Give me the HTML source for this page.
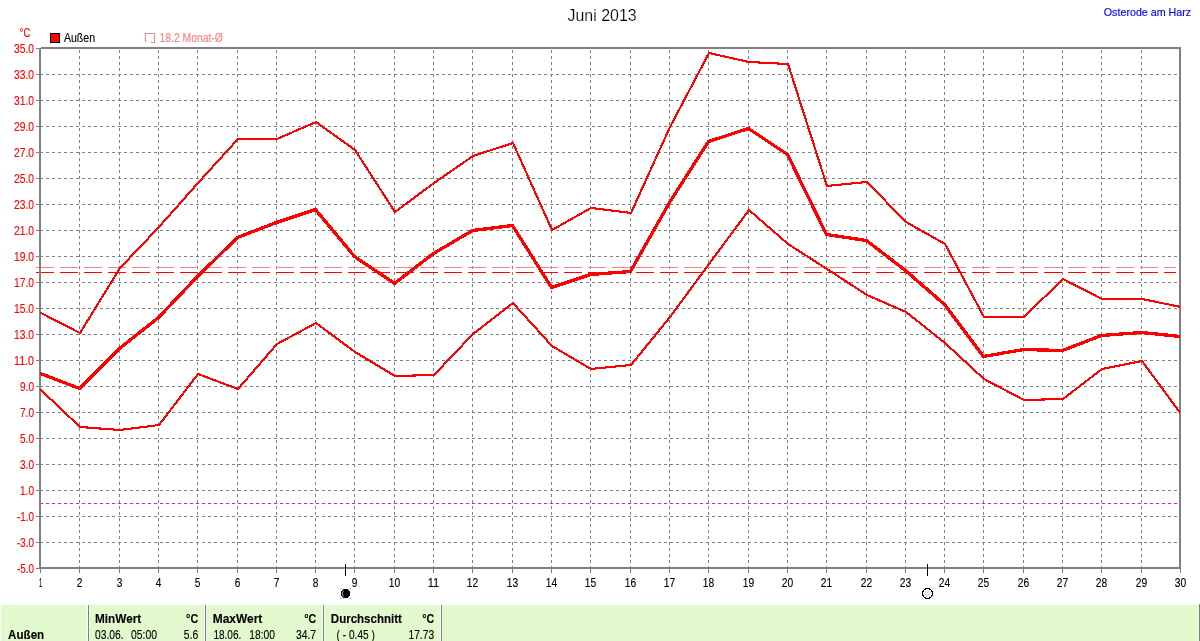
<!DOCTYPE html>
<html lang="de">
<head>
<meta charset="utf-8">
<title>Juni 2013 - Osterode am Harz</title>
<style>
html,body{margin:0;padding:0;background:#fff;}
body{width:1200px;height:641px;overflow:hidden;font-family:"Liberation Sans",sans-serif;}
svg{display:block;}
svg text{white-space:pre;}
</style>
</head>
<body>
<svg width="1200" height="641" viewBox="0 0 1200 641" font-family="'Liberation Sans', sans-serif">
<rect x="0" y="0" width="1200" height="641" fill="#fff"/>
<g shape-rendering="crispEdges">
<rect x="1" y="605" width="1199" height="36" fill="#e2f9ce"/>
<rect x="87" y="605" width="1" height="36" fill="#ffffff"/>
<rect x="88" y="605" width="1" height="36" fill="#808080"/>
<rect x="89" y="605" width="1" height="36" fill="#ecfbe0"/>
<rect x="204" y="605" width="1" height="36" fill="#ffffff"/>
<rect x="205" y="605" width="1" height="36" fill="#808080"/>
<rect x="206" y="605" width="1" height="36" fill="#ecfbe0"/>
<rect x="322" y="605" width="1" height="36" fill="#ffffff"/>
<rect x="323" y="605" width="1" height="36" fill="#808080"/>
<rect x="324" y="605" width="1" height="36" fill="#ecfbe0"/>
<rect x="440" y="605" width="1" height="36" fill="#ffffff"/>
<rect x="441" y="605" width="1" height="36" fill="#808080"/>
<rect x="442" y="605" width="1" height="36" fill="#ecfbe0"/>
<rect x="1198" y="605" width="1" height="36" fill="#e8fad8"/>
<rect x="1199" y="604" width="1" height="37" fill="#808080"/>
</g>
<g shape-rendering="crispEdges" fill="none" stroke="#808080" stroke-width="1">
<path stroke-dasharray="3 3" d="M40 74.5H1180M40 100.5H1180M40 126.5H1180M40 152.5H1180M40 178.5H1180M40 204.5H1180M40 230.5H1180M40 256.5H1180M40 282.5H1180M40 308.5H1180M40 334.5H1180M40 360.5H1180M40 386.5H1180M40 412.5H1180M40 438.5H1180M40 464.5H1180M40 490.5H1180M40 516.5H1180M40 542.5H1180"/>
<path stroke-dasharray="3 3" d="M79.5 569V48M119.5 569V48M158.5 569V48M197.5 569V48M237.5 569V48M276.5 569V48M315.5 569V48M354.5 569V48M394.5 569V48M433.5 569V48M472.5 569V48M512.5 569V48M551.5 569V48M590.5 569V48M630.5 569V48M669.5 569V48M708.5 569V48M748.5 569V48M787.5 569V48M826.5 569V48M866.5 569V48M905.5 569V48M944.5 569V48M983.5 569V48M1023.5 569V48M1062.5 569V48M1101.5 569V48M1141.5 569V48"/>
<path d="M36 48.5H40M36 74.5H40M36 100.5H40M36 126.5H40M36 152.5H40M36 178.5H40M36 204.5H40M36 230.5H40M36 256.5H40M36 282.5H40M36 308.5H40M36 334.5H40M36 360.5H40M36 386.5H40M36 412.5H40M36 438.5H40M36 464.5H40M36 490.5H40M36 516.5H40M36 542.5H40M36 568.5H40M40.5 568V573M79.5 568V573M119.5 568V573M158.5 568V573M197.5 568V573M237.5 568V573M276.5 568V573M315.5 568V573M354.5 568V573M394.5 568V573M433.5 568V573M472.5 568V573M512.5 568V573M551.5 568V573M590.5 568V573M630.5 568V573M669.5 568V573M708.5 568V573M748.5 568V573M787.5 568V573M826.5 568V573M866.5 568V573M905.5 568V573M944.5 568V573M983.5 568V573M1023.5 568V573M1062.5 568V573M1101.5 568V573M1141.5 568V573M1180.5 568V573"/>
</g>
<path shape-rendering="crispEdges" fill="none" stroke="#ff00ff" stroke-width="1" stroke-dasharray="3 3" d="M40 503.5H1180"/>
<path shape-rendering="crispEdges" fill="none" stroke="#ff8080" stroke-width="1" stroke-dasharray="18 6" d="M36 267.5H1176"/>
<path shape-rendering="crispEdges" fill="none" stroke="#ff0000" stroke-width="1" stroke-dasharray="18 6" d="M36 272.5H1176"/>
<g shape-rendering="crispEdges" fill="#808080">
<rect x="39" y="48" width="2" height="521"/>
<rect x="1179" y="47" width="2" height="522"/>
<rect x="41" y="47" width="1140" height="2"/>
<rect x="39" y="567" width="1142" height="2"/>
</g>
<clipPath id="plot"><rect x="40" y="49" width="1140" height="518"/></clipPath>
<polyline clip-path="url(#plot)" shape-rendering="crispEdges" fill="none" stroke="#ff0000" stroke-width="2.1" stroke-linejoin="round" stroke-linecap="round" points="41,313 80,333 120,268 159,227 198,183 238,139 277,139 316,122 355,150 395,212 434,183 473,156 513,143 552,230 591,208 631,213 670,127 709,53 749,62 788,64 827,186 867,182 906,222 945,244 984,317 1024,317 1063,279 1102,299 1142,299 1181,307"/>
<polyline clip-path="url(#plot)" shape-rendering="crispEdges" fill="none" stroke="#ff0000" stroke-width="2.1" stroke-linejoin="round" stroke-linecap="round" points="41,390 80,427 120,430 159,425 198,374 238,389 277,344 316,323 355,352 395,376 434,375 473,334 513,303 552,346 591,369 631,365 670,317 709,264 749,210 788,244 827,269 867,295 906,312 945,343 984,379 1024,400 1063,399 1102,369 1142,361 1181,414"/>
<polyline clip-path="url(#plot)" shape-rendering="crispEdges" fill="none" stroke="#ff0000" stroke-width="3.3" stroke-linejoin="round" stroke-linecap="round" points="40.5,373.5 79.5,388.5 119.5,348.5 158.5,317.5 197.5,276.5 237.5,237.5 276.5,222.5 315.5,209.5 354.5,256.5 394.5,283.5 433.5,253.5 472.5,230.5 512.5,225.5 551.5,287.5 590.5,274.5 630.5,271.5 669.5,202.5 708.5,141.5 748.5,128.5 787.5,154.5 826.5,234.5 866.5,240.5 905.5,270.5 944.5,304.5 983.5,356.5 1023.5,349.5 1062.5,350.5 1101.5,335.5 1141.5,332.5 1180.5,336.5"/>
<g shape-rendering="crispEdges"><rect x="345" y="564" width="1" height="12" fill="#000"/><rect x="927" y="564" width="1" height="12" fill="#000"/></g>
<g shape-rendering="crispEdges" fill="#c8c8c8"><rect x="340" y="588" width="2" height="1"/><rect x="340" y="588" width="1" height="2"/><rect x="349" y="588" width="2" height="1"/><rect x="350" y="588" width="1" height="2"/><rect x="340" y="598" width="2" height="1"/><rect x="340" y="597" width="1" height="2"/><rect x="349" y="598" width="2" height="1"/><rect x="350" y="597" width="1" height="2"/></g>
<circle shape-rendering="crispEdges" cx="345.5" cy="593.5" r="4.7" fill="#000"/>
<path d="M343.3 590.3Q341.3 593.5 343.3 596.7" fill="none" stroke="#fff" stroke-width="0.7"/>
<g shape-rendering="crispEdges" fill="#d0d0d0"><rect x="922" y="588" width="1" height="1"/><rect x="932" y="588" width="1" height="1"/><rect x="922" y="598" width="1" height="1"/><rect x="932" y="598" width="1" height="1"/></g>
<circle shape-rendering="crispEdges" cx="927.5" cy="593.5" r="5" fill="#f4f4f4" stroke="#000" stroke-width="1.25"/>
<path d="M924.5 595.5L929.5 590.5M926 597L931 592M925 592.5L926.5 591M928.5 595.5L930 597" fill="none" stroke="#c8c8c8" stroke-width="0.8"/>
<rect shape-rendering="crispEdges" x="50.5" y="33.5" width="9" height="9" fill="#ff0000" stroke="#000" stroke-width="1"/>
<path shape-rendering="crispEdges" fill="none" stroke="#ff8080" stroke-width="1" d="M145.5 42V33.5H154.5V42.5H151"/>
<text transform="translate(567.50 21.10) scale(0.9971 1.0818)" font-size="16" fill="#000" stroke="#fff" stroke-width="0.2">Juni 2013</text>
<text transform="translate(1103.80 16.00) scale(0.9727 1.0464)" font-size="11" fill="#0000ff" stroke="#0000ff" stroke-width="0.15">Osterode am Harz</text>
<text transform="translate(19.60 37.00) scale(0.7881 1.1030)" font-size="12" fill="#ff0000" stroke="#ff0000" stroke-width="0.12">°C</text>
<text transform="translate(14.00 52.90) scale(0.8565 1.0667)" font-size="12" fill="#ff0000" stroke="#ff0000" stroke-width="0.12">35.0</text>
<text transform="translate(14.00 78.90) scale(0.8565 1.0667)" font-size="12" fill="#ff0000" stroke="#ff0000" stroke-width="0.12">33.0</text>
<text transform="translate(14.00 104.90) scale(0.8565 1.0667)" font-size="12" fill="#ff0000" stroke="#ff0000" stroke-width="0.12">31.0</text>
<text transform="translate(14.00 130.90) scale(0.8565 1.0667)" font-size="12" fill="#ff0000" stroke="#ff0000" stroke-width="0.12">29.0</text>
<text transform="translate(14.00 156.90) scale(0.8565 1.0667)" font-size="12" fill="#ff0000" stroke="#ff0000" stroke-width="0.12">27.0</text>
<text transform="translate(14.00 182.90) scale(0.8565 1.0667)" font-size="12" fill="#ff0000" stroke="#ff0000" stroke-width="0.12">25.0</text>
<text transform="translate(14.00 208.90) scale(0.8565 1.0667)" font-size="12" fill="#ff0000" stroke="#ff0000" stroke-width="0.12">23.0</text>
<text transform="translate(14.00 234.90) scale(0.8565 1.0667)" font-size="12" fill="#ff0000" stroke="#ff0000" stroke-width="0.12">21.0</text>
<text transform="translate(14.00 260.90) scale(0.8565 1.0667)" font-size="12" fill="#ff0000" stroke="#ff0000" stroke-width="0.12">19.0</text>
<text transform="translate(14.00 286.90) scale(0.8565 1.0667)" font-size="12" fill="#ff0000" stroke="#ff0000" stroke-width="0.12">17.0</text>
<text transform="translate(14.00 312.90) scale(0.8565 1.0667)" font-size="12" fill="#ff0000" stroke="#ff0000" stroke-width="0.12">15.0</text>
<text transform="translate(14.00 338.90) scale(0.8565 1.0667)" font-size="12" fill="#ff0000" stroke="#ff0000" stroke-width="0.12">13.0</text>
<text transform="translate(14.00 364.90) scale(0.8909 1.0667)" font-size="12" fill="#ff0000" stroke="#ff0000" stroke-width="0.12">11.0</text>
<text transform="translate(20.00 390.90) scale(0.8383 1.0667)" font-size="12" fill="#ff0000" stroke="#ff0000" stroke-width="0.12">9.0</text>
<text transform="translate(20.00 416.90) scale(0.8383 1.0667)" font-size="12" fill="#ff0000" stroke="#ff0000" stroke-width="0.12">7.0</text>
<text transform="translate(20.00 442.90) scale(0.8383 1.0667)" font-size="12" fill="#ff0000" stroke="#ff0000" stroke-width="0.12">5.0</text>
<text transform="translate(20.00 468.90) scale(0.8383 1.0667)" font-size="12" fill="#ff0000" stroke="#ff0000" stroke-width="0.12">3.0</text>
<text transform="translate(20.00 494.90) scale(0.8383 1.0667)" font-size="12" fill="#ff0000" stroke="#ff0000" stroke-width="0.12">1.0</text>
<text transform="translate(17.00 520.90) scale(0.8213 1.0667)" font-size="12" fill="#ff0000" stroke="#ff0000" stroke-width="0.12">-1.0</text>
<text transform="translate(17.00 546.90) scale(0.8213 1.0667)" font-size="12" fill="#ff0000" stroke="#ff0000" stroke-width="0.12">-3.0</text>
<text transform="translate(17.00 572.90) scale(0.8213 1.0667)" font-size="12" fill="#ff0000" stroke="#ff0000" stroke-width="0.12">-5.0</text>
<text transform="translate(38.90 587.00) scale(0.4812 1.0909)" font-size="12" fill="#000" stroke="#000" stroke-width="0.12">1</text>
<text transform="translate(76.70 587.00) scale(0.8421 1.0909)" font-size="12" fill="#000" stroke="#000" stroke-width="0.12">2</text>
<text transform="translate(116.70 587.00) scale(0.8421 1.0909)" font-size="12" fill="#000" stroke="#000" stroke-width="0.12">3</text>
<text transform="translate(155.70 587.00) scale(0.8421 1.0909)" font-size="12" fill="#000" stroke="#000" stroke-width="0.12">4</text>
<text transform="translate(194.70 587.00) scale(0.8421 1.0909)" font-size="12" fill="#000" stroke="#000" stroke-width="0.12">5</text>
<text transform="translate(234.70 587.00) scale(0.8421 1.0909)" font-size="12" fill="#000" stroke="#000" stroke-width="0.12">6</text>
<text transform="translate(273.70 587.00) scale(0.8421 1.0909)" font-size="12" fill="#000" stroke="#000" stroke-width="0.12">7</text>
<text transform="translate(312.70 587.00) scale(0.8421 1.0909)" font-size="12" fill="#000" stroke="#000" stroke-width="0.12">8</text>
<text transform="translate(351.70 587.00) scale(0.8421 1.0909)" font-size="12" fill="#000" stroke="#000" stroke-width="0.12">9</text>
<text transform="translate(388.80 587.00) scale(0.8539 1.0909)" font-size="12" fill="#000" stroke="#000" stroke-width="0.12">10</text>
<text transform="translate(427.80 587.00) scale(0.9157 1.0909)" font-size="12" fill="#000" stroke="#000" stroke-width="0.12">11</text>
<text transform="translate(466.80 587.00) scale(0.8539 1.0909)" font-size="12" fill="#000" stroke="#000" stroke-width="0.12">12</text>
<text transform="translate(506.80 587.00) scale(0.8539 1.0909)" font-size="12" fill="#000" stroke="#000" stroke-width="0.12">13</text>
<text transform="translate(545.80 587.00) scale(0.8539 1.0909)" font-size="12" fill="#000" stroke="#000" stroke-width="0.12">14</text>
<text transform="translate(584.80 587.00) scale(0.8539 1.0909)" font-size="12" fill="#000" stroke="#000" stroke-width="0.12">15</text>
<text transform="translate(624.80 587.00) scale(0.8539 1.0909)" font-size="12" fill="#000" stroke="#000" stroke-width="0.12">16</text>
<text transform="translate(663.80 587.00) scale(0.8539 1.0909)" font-size="12" fill="#000" stroke="#000" stroke-width="0.12">17</text>
<text transform="translate(702.80 587.00) scale(0.8539 1.0909)" font-size="12" fill="#000" stroke="#000" stroke-width="0.12">18</text>
<text transform="translate(742.80 587.00) scale(0.8539 1.0909)" font-size="12" fill="#000" stroke="#000" stroke-width="0.12">19</text>
<text transform="translate(781.80 587.00) scale(0.8539 1.0909)" font-size="12" fill="#000" stroke="#000" stroke-width="0.12">20</text>
<text transform="translate(820.80 587.00) scale(0.8539 1.0909)" font-size="12" fill="#000" stroke="#000" stroke-width="0.12">21</text>
<text transform="translate(860.80 587.00) scale(0.8539 1.0909)" font-size="12" fill="#000" stroke="#000" stroke-width="0.12">22</text>
<text transform="translate(899.80 587.00) scale(0.8539 1.0909)" font-size="12" fill="#000" stroke="#000" stroke-width="0.12">23</text>
<text transform="translate(938.80 587.00) scale(0.8539 1.0909)" font-size="12" fill="#000" stroke="#000" stroke-width="0.12">24</text>
<text transform="translate(977.80 587.00) scale(0.8539 1.0909)" font-size="12" fill="#000" stroke="#000" stroke-width="0.12">25</text>
<text transform="translate(1017.80 587.00) scale(0.8539 1.0909)" font-size="12" fill="#000" stroke="#000" stroke-width="0.12">26</text>
<text transform="translate(1056.80 587.00) scale(0.8539 1.0909)" font-size="12" fill="#000" stroke="#000" stroke-width="0.12">27</text>
<text transform="translate(1095.80 587.00) scale(0.8539 1.0909)" font-size="12" fill="#000" stroke="#000" stroke-width="0.12">28</text>
<text transform="translate(1135.80 587.00) scale(0.8539 1.0909)" font-size="12" fill="#000" stroke="#000" stroke-width="0.12">29</text>
<text transform="translate(1174.80 587.00) scale(0.8539 1.0909)" font-size="12" fill="#000" stroke="#000" stroke-width="0.12">30</text>
<text transform="translate(63.90 42.00) scale(0.8826 1.0909)" font-size="12" fill="#000" stroke="#000" stroke-width="0.12">Außen</text>
<text transform="translate(159.60 42.00) scale(0.8624 1.0909)" font-size="12" fill="#ff8080" stroke="#ff8080" stroke-width="0.12">18.2 Monat-Ø</text>
<text transform="translate(8.10 639.00) scale(0.9665 1.0909)" font-size="12" fill="#000" font-weight="bold" stroke="#000" stroke-width="0.12">Außen</text>
<text transform="translate(95.00 623.00) scale(0.9830 1.0909)" font-size="12" fill="#000" font-weight="bold" stroke="#000" stroke-width="0.12">MinWert</text>
<text transform="translate(186.10 623.00) scale(0.8996 1.0909)" font-size="12" fill="#000" font-weight="bold" stroke="#000" stroke-width="0.12">°C</text>
<text transform="translate(95.00 639.00) scale(0.8546 1.0909)" font-size="12" fill="#000" stroke="#000" stroke-width="0.12">03.06.</text>
<text transform="translate(131.00 639.00) scale(0.8652 1.0909)" font-size="12" fill="#000" stroke="#000" stroke-width="0.12">05:00</text>
<text transform="translate(183.80 639.00) scale(0.8623 1.0909)" font-size="12" fill="#000" stroke="#000" stroke-width="0.12">5.6</text>
<text transform="translate(212.80 623.00) scale(0.9940 1.0909)" font-size="12" fill="#000" font-weight="bold" stroke="#000" stroke-width="0.12">MaxWert</text>
<text transform="translate(304.20 623.00) scale(0.8848 1.0909)" font-size="12" fill="#000" font-weight="bold" stroke="#000" stroke-width="0.12">°C</text>
<text transform="translate(213.50 639.00) scale(0.8306 1.0909)" font-size="12" fill="#000" stroke="#000" stroke-width="0.12">18.06.</text>
<text transform="translate(249.30 639.00) scale(0.8552 1.0909)" font-size="12" fill="#000" stroke="#000" stroke-width="0.12">18:00</text>
<text transform="translate(295.90 639.00) scale(0.8651 1.0909)" font-size="12" fill="#000" stroke="#000" stroke-width="0.12">34.7</text>
<text transform="translate(330.80 623.00) scale(0.9622 1.0909)" font-size="12" fill="#000" font-weight="bold" stroke="#000" stroke-width="0.12">Durchschnitt</text>
<text transform="translate(422.20 623.00) scale(0.8848 1.0909)" font-size="12" fill="#000" font-weight="bold" stroke="#000" stroke-width="0.12">°C</text>
<text transform="translate(336.60 639.00) scale(0.8445 1.0909)" font-size="12" fill="#000" stroke="#000" stroke-width="0.12">( - 0.45 )</text>
<text transform="translate(408.50 639.00) scale(0.8519 1.0909)" font-size="12" fill="#000" stroke="#000" stroke-width="0.12">17.73</text>
</svg>
</body>
</html>
